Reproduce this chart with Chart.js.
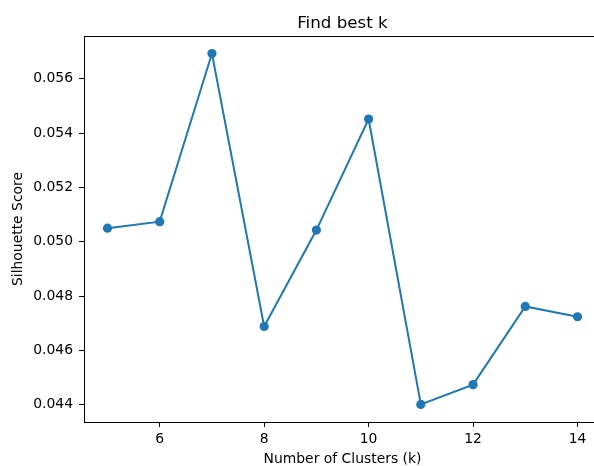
<!DOCTYPE html>
<html>
<head>
<meta charset="utf-8">
<script src="https://cdn.jsdelivr.net/npm/chart.js@4/dist/chart.umd.min.js"></script>
<style>
  html, body { margin: 0; padding: 0; background: #fff; overflow: hidden; }
</style>
</head>
<body>
<canvas id="myChart" width="610" height="466"></canvas>
<script>
// k values and silhouette scores
var clusters = [5, 6, 7, 8, 9, 10, 11, 12, 13, 14];
var scores = [0.0505, 0.05074, 0.05693, 0.04688, 0.05043, 0.05452, 0.04401, 0.04474, 0.04762, 0.04724];
var xTicks = [6, 8, 10, 12, 14];
var yTicks = [0.044, 0.046, 0.048, 0.05, 0.052, 0.054, 0.056];
var chartTitle = "Find best k";

var blue = "#1f77b4";
var font = "'DejaVu Sans', sans-serif";

// matplotlib-like 5% margins
var xPad = (Math.max.apply(null, clusters) - Math.min.apply(null, clusters)) * 0.05;
var yPad = (Math.max.apply(null, scores) - Math.min.apply(null, scores)) * 0.05;

var points = [];
for (let i = 0; i < clusters.length; i++) {
	points.push({ x: clusters[i], y: scores[i] });
}

// box around the plot area + title centred over the axes (like matplotlib)
var frame = {
	id: "frame",
	afterDraw: function (chart) {
		var a = chart.chartArea;
		var c = chart.ctx;
		c.save();
		c.strokeStyle = "#000";
		c.lineWidth = 1;
		c.strokeRect(Math.round(a.left) + 0.5, Math.round(a.top) + 0.5, Math.round(a.right - a.left), Math.round(a.bottom - a.top));
		c.fillStyle = "#000";
		c.font = "16.7px " + font;
		c.textAlign = "center";
		c.textBaseline = "alphabetic";
		c.fillText(chartTitle, (a.left + a.right) / 2, a.top - 8);
		c.restore();
	},
};

var ctx = document.getElementById("myChart").getContext("2d");
var myChart = new Chart(ctx, {
	type: "line",
	data: {
		datasets: [
			{
				data: points,
				borderColor: blue,
				backgroundColor: blue,
				borderWidth: 2,
				pointRadius: 4.6,
				pointBorderWidth: 0,
				pointBackgroundColor: blue,
				fill: false,
				tension: 0,
			},
		],
	},
	options: {
		responsive: false,
		animation: false,
		layout: { padding: { right: 9, left: 0, top: 36, bottom: 0 } },
		plugins: {
			legend: { display: false },
			tooltip: { enabled: false },
			title: { display: false },
		},
		scales: {
			x: {
				type: "linear",
				min: Math.min.apply(null, clusters) - xPad,
				max: Math.max.apply(null, clusters) + xPad,
				afterBuildTicks: function (scale) {
					scale.ticks = xTicks.map(function (v) { return { value: v }; });
				},
				afterFit: function (scale) {
					scale.height = 44;
				},
				grid: { drawOnChartArea: false, drawTicks: true, tickLength: 5, color: "#000", tickWidth: 1 },
				border: { display: true, color: "#000", width: 1 },
				ticks: {
					color: "#000",
					padding: 4,
					maxRotation: 0,
					font: { family: font, size: 13.9 },
					callback: function (v) { return String(v); },
				},
				title: {
					display: true,
					text: "Number of Clusters (k)",
					color: "#000",
					font: { family: font, size: 13.9, lineHeight: 1 },
					padding: { top: 0, bottom: 0 },
				},
			},
			y: {
				min: Math.min.apply(null, scores) - yPad,
				max: Math.max.apply(null, scores) + yPad,
				afterBuildTicks: function (scale) {
					scale.ticks = yTicks.map(function (v) { return { value: v }; });
				},
				afterFit: function (scale) {
					scale.width = 84;
				},
				grid: { drawOnChartArea: false, drawTicks: true, tickLength: 5, color: "#000", tickWidth: 1 },
				border: { display: true, color: "#000", width: 1 },
				ticks: {
					color: "#000",
					padding: 6,
					font: { family: font, size: 13.9 },
					callback: function (v) { return v.toFixed(3); },
				},
				title: {
					display: true,
					text: "Silhouette Score",
					color: "#000",
					font: { family: font, size: 13.9, lineHeight: 1 },
					padding: { top: 11, bottom: 0 },
				},
			},
		},
	},
	plugins: [frame],
});
</script>
</body>
</html>
